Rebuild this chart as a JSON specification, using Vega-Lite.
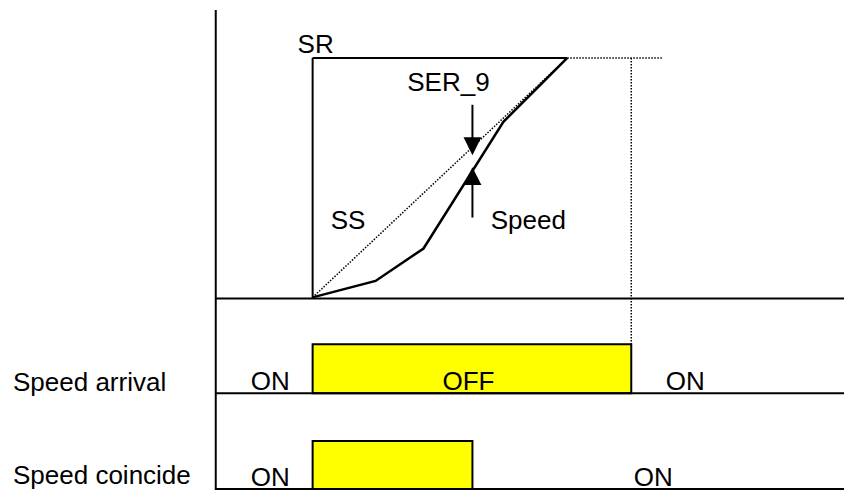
{
  "$schema": "https://vega.github.io/schema/vega-lite/v6.json",
  "width": 845,
  "height": 491,
  "padding": 0,
  "autosize": {"type": "fit", "contains": "padding"},
  "config": {"view": {"stroke": null}},
  "layer": [
    {
      "data": {"values": [
        {"x": 313, "y": 345, "x2": 632, "y2": 394},
        {"x": 313, "y": 442, "x2": 473, "y2": 490}
      ]},
      "mark": {"type": "rect", "fill": "#FFFF00", "stroke": "black", "strokeWidth": 2},
      "encoding": {
        "x": {"field": "x", "type": "quantitative", "scale": {"domain": [0, 845], "nice": false, "zero": false}, "axis": null},
        "x2": {"field": "x2"},
        "y": {"field": "y", "type": "quantitative", "scale": {"domain": [0, 491], "nice": false, "zero": false, "reverse": true}, "axis": null},
        "y2": {"field": "y2"}
      }
    },
    {
      "data": {"values": [
        {"x": 216, "y": 10, "x2": 216, "y2": 491},
        {"x": 216, "y": 299, "x2": 845, "y2": 299},
        {"x": 216, "y": 394, "x2": 845, "y2": 394},
        {"x": 216, "y": 490, "x2": 845, "y2": 490},
        {"x": 313, "y": 299, "x2": 313, "y2": 58},
        {"x": 313, "y": 58, "x2": 568, "y2": 58},
        {"x": 473, "y": 105, "x2": 473, "y2": 142},
        {"x": 473, "y": 182, "x2": 473, "y2": 218}
      ]},
      "mark": {"type": "rule", "color": "black", "strokeWidth": 2},
      "encoding": {
        "x": {"field": "x", "type": "quantitative"},
        "x2": {"field": "x2"},
        "y": {"field": "y", "type": "quantitative"},
        "y2": {"field": "y2"}
      }
    },
    {
      "data": {"values": [
        {"x": 313, "y": 298, "x2": 568, "y2": 58},
        {"x": 568, "y": 58, "x2": 663, "y2": 58},
        {"x": 632, "y": 58, "x2": 632, "y2": 345}
      ]},
      "mark": {"type": "rule", "color": "black", "strokeWidth": 1.5, "strokeDash": [1.5, 1.5]},
      "encoding": {
        "x": {"field": "x", "type": "quantitative"},
        "x2": {"field": "x2"},
        "y": {"field": "y", "type": "quantitative"},
        "y2": {"field": "y2"}
      }
    },
    {
      "data": {"values": [
        {"o": 1, "x": 313, "y": 298},
        {"o": 2, "x": 376, "y": 281.5},
        {"o": 3, "x": 424, "y": 249},
        {"o": 4, "x": 504, "y": 122},
        {"o": 5, "x": 568, "y": 58}
      ]},
      "mark": {"type": "line", "color": "black", "strokeWidth": 2.5},
      "encoding": {
        "x": {"field": "x", "type": "quantitative"},
        "y": {"field": "y", "type": "quantitative"},
        "order": {"field": "o"}
      }
    },
    {
      "data": {"values": [
        {"x": 473, "y": 146.5, "s": "M-1,-1L1,-1L0,1Z"},
        {"x": 473, "y": 176.5, "s": "M-1,1L1,1L0,-1Z"}
      ]},
      "mark": {"type": "point", "filled": true, "color": "black", "opacity": 1, "size": 320},
      "encoding": {
        "x": {"field": "x", "type": "quantitative"},
        "y": {"field": "y", "type": "quantitative"},
        "shape": {"field": "s", "type": "nominal", "scale": null, "legend": null}
      }
    },
    {
      "data": {"values": [
        {"t": "SR", "x": 316, "y": 53},
        {"t": "SER_9", "x": 449, "y": 91},
        {"t": "SS", "x": 348.5, "y": 229},
        {"t": "Speed", "x": 529, "y": 229},
        {"t": "ON", "x": 270.5, "y": 391},
        {"t": "OFF", "x": 469, "y": 391},
        {"t": "ON", "x": 686, "y": 391},
        {"t": "ON", "x": 270.5, "y": 487},
        {"t": "ON", "x": 654, "y": 487}
      ]},
      "mark": {"type": "text", "font": "Liberation Sans", "fontSize": 26, "align": "center", "baseline": "alphabetic", "color": "black"},
      "encoding": {
        "x": {"field": "x", "type": "quantitative"},
        "y": {"field": "y", "type": "quantitative"},
        "text": {"field": "t"}
      }
    },
    {
      "data": {"values": [
        {"t": "Speed arrival", "x": 13, "y": 392},
        {"t": "Speed coincide", "x": 13, "y": 485}
      ]},
      "mark": {"type": "text", "font": "Liberation Sans", "fontSize": 26, "align": "left", "baseline": "alphabetic", "color": "black"},
      "encoding": {
        "x": {"field": "x", "type": "quantitative"},
        "y": {"field": "y", "type": "quantitative"},
        "text": {"field": "t"}
      }
    }
  ]
}
